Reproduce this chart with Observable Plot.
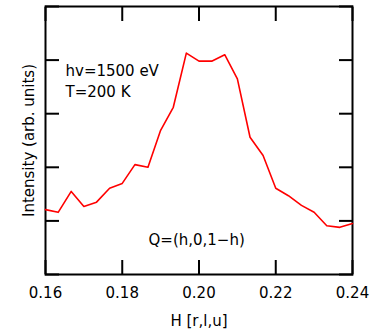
<!DOCTYPE html>
<html>
<head>
<meta charset="utf-8">
<script src="https://cdn.jsdelivr.net/npm/d3@7"></script>
<script src="https://cdn.jsdelivr.net/npm/@observablehq/plot@0.6"></script>
<style>
  body { margin: 0; background: #fff; }
</style>
</head>
<body>
<div id="chart"></div>
<script>
// H values [r.l.u.]
const hValues = [0.1600, 0.1633, 0.1667, 0.1700, 0.1733, 0.1767, 0.1800, 0.1833, 0.1867, 0.1900,
                 0.1933, 0.1967, 0.2000, 0.2033, 0.2067, 0.2100, 0.2133, 0.2167, 0.2200, 0.2233,
                 0.2267, 0.2300, 0.2333, 0.2367, 0.2400];
// Intensity (arb. units)
const intensity = [1.21, 1.16, 1.55, 1.27, 1.35, 1.61, 1.70, 2.05, 2.00, 2.69,
                   3.12, 4.13, 3.98, 3.98, 4.10, 3.65, 2.56, 2.22, 1.61, 1.47,
                   1.29, 1.16, 0.91, 0.88, 0.95];
const xTicks = [0.16, 0.18, 0.20, 0.22, 0.24];
const yTicks = [0, 1, 2, 3, 4, 5];
const xLabel = "H [r,l,u]";
const yLabel = "Intensity (arb. units)";
const note1 = "hv=1500 eV\nT=200 K";
const note2 = "Q=(h,0,1\u2212h)";

const data = hValues.map((h, i) => ({h, v: intensity[i]}));

const chart = Plot.plot({
  width: 379,
  height: 332,
  marginLeft: 45,
  marginRight: 27,
  marginTop: 6,
  marginBottom: 58,
  style: {fontFamily: "DejaVu Sans", fontSize: "15px", color: "#000", background: "#fff"},
  x: {domain: [0.16, 0.24]},
  y: {domain: [0, 5]},
  marks: [
    Plot.frame({stroke: "#000", strokeWidth: 2}),
    Plot.axisX(xTicks, {anchor: "bottom", tickSize: -14, strokeWidth: 2, tickFormat: () => "", label: null}),
    Plot.axisX(xTicks, {anchor: "top", tickSize: -14, strokeWidth: 2, tickFormat: () => "", label: null}),
    Plot.axisY(yTicks, {anchor: "left", tickSize: -14, strokeWidth: 2, tickFormat: () => "", label: null}),
    Plot.axisY(yTicks, {anchor: "right", tickSize: -14, strokeWidth: 2, tickFormat: () => "", label: null}),
    Plot.axisX(xTicks, {anchor: "bottom", tickSize: 0, tickPadding: 13, fontSize: 15, tickFormat: d3.format(".2f"), label: null}),
    Plot.line(data, {x: "h", y: "v", stroke: "#ff0000", strokeWidth: 1.6}),
    Plot.text([note1], {frameAnchor: "top-left", dx: 20, dy: 55, textAnchor: "start", lineAnchor: "top", lineHeight: 1.4, fontSize: 15}),
    Plot.text([note2], {frameAnchor: "bottom-left", dx: 103, dy: -30, textAnchor: "start", lineAnchor: "bottom", fontSize: 15}),
    Plot.text([xLabel], {frameAnchor: "bottom", dy: 51, textAnchor: "middle", lineAnchor: "bottom", fontSize: 15}),
    Plot.text([yLabel], {frameAnchor: "left", dx: -12, rotate: -90, textAnchor: "middle", lineAnchor: "bottom", fontSize: 15})
  ]
});
document.getElementById("chart").appendChild(chart);
</script>
</body>
</html>
